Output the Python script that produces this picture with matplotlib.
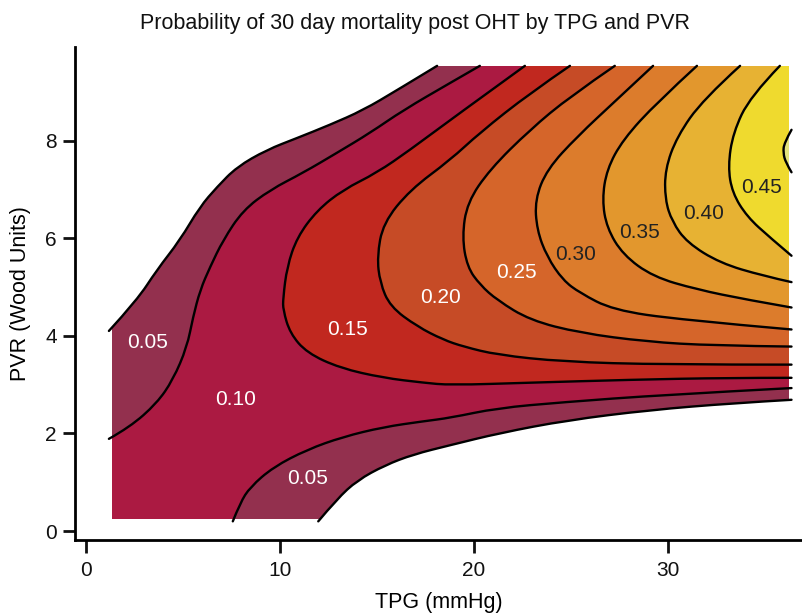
import numpy as np
import matplotlib
matplotlib.use('Agg')
import matplotlib.pyplot as plt
from matplotlib.path import Path
from matplotlib.patches import PathPatch

plt.rcParams['font.family'] = ['Liberation Sans', 'DejaVu Sans']

# --- data: contour traces as (TPG, PVR) points ---
TPG_MIN, TPG_MAX = 1.35, 36.22
PVR_MIN, PVR_MAX = 0.25, 9.53

line_025_upper = [(1.2, 4.1), (2.65, 4.73), (3.67, 5.35), (4.86, 5.96), (5.88, 6.64),
                  (6.77, 7.05), (7.79, 7.46), (9.33, 7.81), (10.88, 8.05), (12.57, 8.32),
                  (14.28, 8.62), (16.03, 9.03), (18.1, 9.53)]
line_025_lower = [(11.98, 0.2), (12.95, 0.66), (13.99, 1.04), (15.42, 1.35), (16.87, 1.57),
                  (18.77, 1.76), (21.34, 2.01), (24.79, 2.27), (29.05, 2.48), (33.34, 2.62),
                  (36.35, 2.69)]
line_075_upper = [(1.2, 1.89), (2.28, 2.13), (3.67, 2.62), (4.5, 3.1), (5.22, 3.77),
                  (5.53, 4.38), (5.9, 4.94), (6.41, 5.41), (7.08, 5.96), (8.1, 6.57),
                  (9.5, 6.99), (11.2, 7.34), (12.95, 7.75), (14.66, 8.16), (16.35, 8.62),
                  (18.77, 9.18), (20.3, 9.53)]
line_075_lower = [(7.58, 0.2), (7.96, 0.58), (8.47, 0.9), (9.66, 1.31), (11.41, 1.67),
                  (13.25, 1.93), (15.32, 2.13), (17.4, 2.25), (18.77, 2.32), (21.2, 2.52),
                  (24.58, 2.64), (29.73, 2.79), (36.35, 2.93)]
line_125 = [(22.62, 9.53), (18.77, 8.42), (16.71, 7.81), (15.0, 7.34), (13.25, 6.99),
            (11.92, 6.57), (10.89, 6.02), (10.37, 5.41), (10.17, 4.77), (10.17, 4.53),
            (10.53, 4.05), (11.4, 3.65), (13.1, 3.34), (15.32, 3.14), (17.4, 3.04),
            (18.77, 2.99), (22.87, 3.04), (28.03, 3.10), (33.14, 3.14), (36.35, 3.14)]
line_175 = [(24.94, 9.53), (22.88, 8.97), (20.3, 8.16), (18.77, 7.6), (16.71, 6.99),
            (15.32, 6.31), (15.01, 5.62), (15.16, 5.09), (15.68, 4.6), (17.08, 4.19),
            (18.42, 3.92), (19.45, 3.78), (21.2, 3.61), (24.58, 3.47), (29.73, 3.41),
            (36.35, 3.41)]
line_225 = [(27.25, 9.53), (24.94, 8.9), (22.88, 8.22), (20.82, 7.41), (19.65, 6.73),
            (19.39, 6.03), (19.65, 5.41), (20.32, 5.04), (21.2, 4.73), (22.88, 4.32),
            (25.45, 4.06), (28.9, 3.88), (32.3, 3.8), (36.35, 3.78)]
line_275 = [(29.22, 9.53), (27.36, 8.84), (25.31, 8.08), (23.76, 7.41), (23.14, 6.79),
            (23.24, 6.17), (23.76, 5.62), (24.58, 5.14), (25.45, 4.88), (27.15, 4.53),
            (30.6, 4.33), (36.35, 4.13)]
line_325 = [(31.48, 9.53), (29.42, 8.78), (27.67, 8.02), (26.84, 7.41), (26.6, 6.79),
            (26.84, 6.21), (27.67, 5.66), (29.22, 5.21), (31.48, 4.95), (34.05, 4.74),
            (36.35, 4.58)]
line_375 = [(33.7, 9.53), (31.79, 8.84), (30.45, 8.08), (29.84, 7.41), (29.84, 6.79),
            (30.2, 6.34), (30.97, 5.91), (32.67, 5.49), (34.88, 5.23), (36.35, 5.1)]
line_425 = [(35.75, 9.53), (34.22, 8.9), (33.34, 8.16), (33.08, 7.47), (33.3, 6.93),
            (34.06, 6.44), (35.25, 6.01), (36.35, 5.64)]
line_475 = [(36.35, 8.22), (35.97, 7.95), (35.92, 7.75), (36.05, 7.55), (36.35, 7.35)]

band_colors = ['#93304e', '#ab1a42', '#c1281f', '#c64b26', '#d5652a',
               '#dc7c2c', '#e2972d', '#e7b233', '#efda2e', '#e2e27c']

label_text = ['0.05', '0.10', '0.05', '0.15', '0.20', '0.25', '0.30', '0.35', '0.40', '0.45']
label_tpg = [3.17, 7.74, 11.45, 13.5, 18.25, 22.16, 25.25, 28.5, 31.8, 34.78]
label_pvr = [3.86, 2.69, 1.07, 4.12, 4.79, 5.29, 5.66, 6.11, 6.5, 7.03]
label_color = ['white'] * 6 + ['#222222'] * 4


def add_curve(points, verts, codes):
    # quadratic b-spline style path through the traced points
    p = np.asarray(points, float)
    n = len(p)
    verts.append(p[0])
    codes.append(Path.LINETO if codes else Path.MOVETO)
    for i in range(1, n - 1):
        end = p[-1] if i == n - 2 else (p[i] + p[i + 1]) / 2
        verts += [p[i], end]
        codes += [Path.CURVE3, Path.CURVE3]
    if n == 2:
        verts.append(p[1])
        codes.append(Path.LINETO)


def band_path(*parts):
    verts, codes = [], []
    for part in parts:
        if isinstance(part, tuple):
            verts.append(part)
            codes.append(Path.LINETO if codes else Path.MOVETO)
        else:
            add_curve(part, verts, codes)
    verts.append(verts[0])
    codes.append(Path.CLOSEPOLY)
    return Path(verts, codes)


def line_path(points):
    verts, codes = [], []
    add_curve(points, verts, codes)
    return Path(verts, codes)


fig = plt.figure(figsize=(8.02, 6.15), dpi=100)
ax = fig.add_axes([75 / 802, 1 - 540 / 615, 727 / 802, 493 / 615])

# clip the fills to the sampled TPG/PVR rectangle
frame = plt.Rectangle((TPG_MIN, PVR_MIN), TPG_MAX - TPG_MIN, PVR_MAX - PVR_MIN,
                      transform=ax.transData, fill=False, lw=0)
ax.add_patch(frame)

big = (40, 12)
regions = [
    band_path(line_025_upper, big, line_025_lower[::-1], (0, -1), (0, 4.1)),
    band_path(line_075_upper, big, line_075_lower[::-1], (0, -1), (0, 1.89)),
    band_path(line_125, big),
    band_path(line_175, big),
    band_path(line_225, big),
    band_path(line_275, big),
    band_path(line_325, big),
    band_path(line_375, big),
    band_path(line_425, big),
    band_path(line_475, (40, 8.22), (40, 7.35)),
]
for path, col in zip(regions, band_colors):
    patch = PathPatch(path, facecolor=col, edgecolor=col, lw=0.3, zorder=1)
    ax.add_patch(patch)
    patch.set_clip_path(frame)

for pts in [line_025_upper, line_025_lower, line_075_upper, line_075_lower, line_125,
            line_175, line_225, line_275, line_325, line_375, line_425, line_475]:
    ax.add_patch(PathPatch(line_path(pts), facecolor='none', edgecolor='black',
                           lw=1.7, capstyle='round', zorder=2))

for txt, x, y, c in zip(label_text, label_tpg, label_pvr, label_color):
    ax.text(x, y, txt, color=c, fontsize=15, ha='center', va='center', zorder=3)

ax.set_xlim(-0.546, 36.89)
ax.set_ylim(-0.182, 9.916)
ax.set_xticks([0, 10, 20, 30])
ax.set_yticks([0, 2, 4, 6, 8])
for side in ['top', 'right']:
    ax.spines[side].set_visible(False)
for side in ['left', 'bottom']:
    ax.spines[side].set_linewidth(2)
ax.tick_params(length=9, width=2, labelsize=15, pad=4, colors='#111111')
ax.tick_params(axis='x', pad=6)

ax.set_xlabel('TPG (mmHg)', fontsize=15.5, labelpad=9)
ax.set_ylabel('PVR (Wood Units)', fontsize=15.5, labelpad=10)
fig.text(415 / 802, 1 - 23 / 615, 'Probability of 30 day mortality post OHT by TPG and PVR',
         fontsize=15.5, ha='center', va='center', color='#111111')

fig.savefig('out.png', dpi=100)
